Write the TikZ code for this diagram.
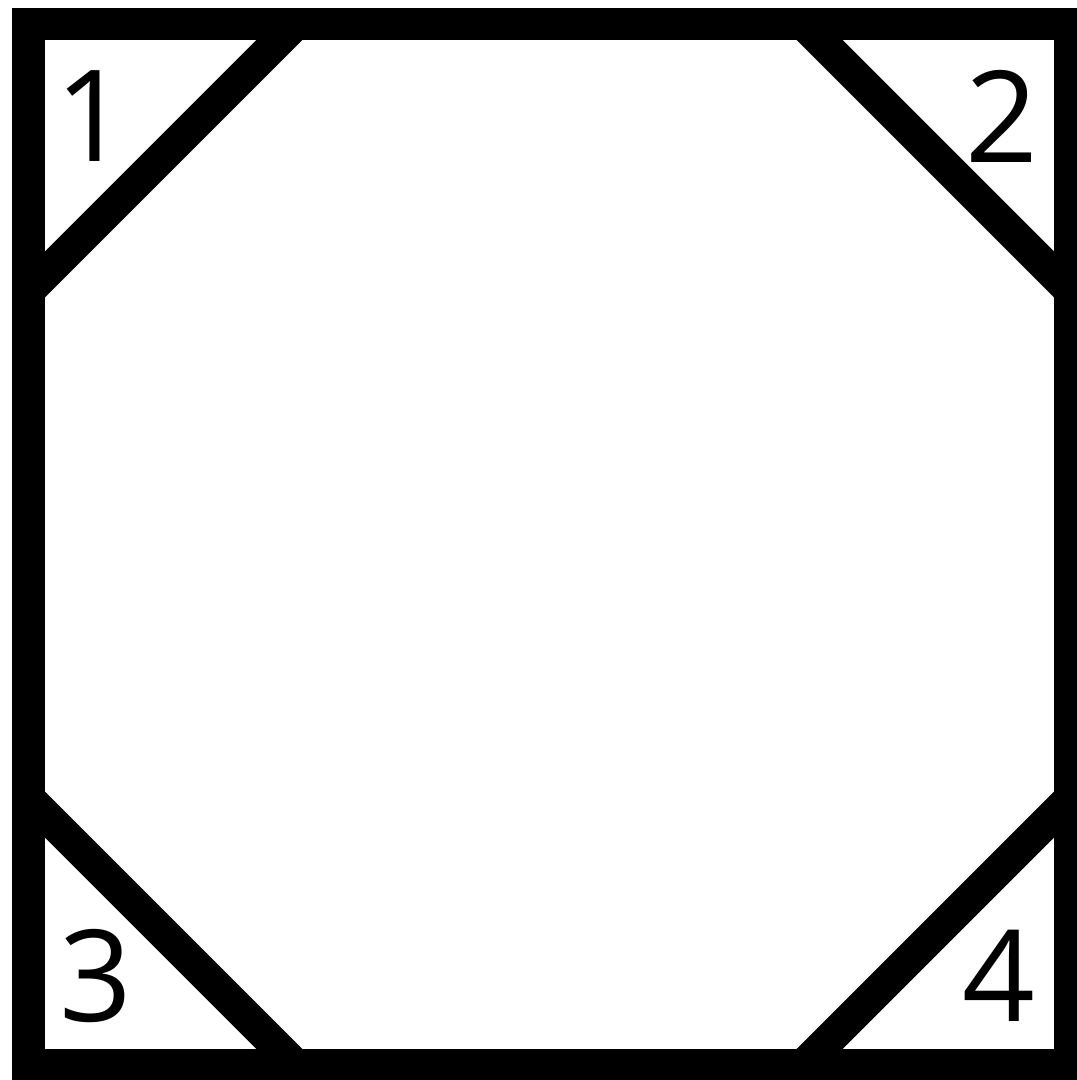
\documentclass[tikz,border=0pt]{standalone}
\usepackage{fontspec}
\setmainfont{Open Sans}
\usetikzlibrary{positioning}

\begin{document}
\begin{tikzpicture}[
        x=0.01cm, y=-0.01cm,
        frame/.style={draw=black, line width=0.325cm, line join=miter},
        cut/.style={draw=black, line width=0.325cm, line cap=butt},
        numlabel/.style={inner sep=0pt, font=\fontsize{36.2}{40}\selectfont}
    ]
    \useasboundingbox (0,0) rectangle (1077,1080);
    \clip (0,0) rectangle (1077,1080);
    % outer square
    \draw [frame] (28.5,24) rectangle (1070,1065);
    % corner cuts
    \coordinate (tl-a) at (295.5,24);  \coordinate (tl-b) at (28.5,291);
    \coordinate (tr-a) at (803.5,24);  \coordinate (tr-b) at (1070,290.5);
    \coordinate (bl-a) at (295.5,1065); \coordinate (bl-b) at (28.5,798);
    \coordinate (br-a) at (803.5,1065); \coordinate (br-b) at (1070,798.5);
    \draw [cut] (tl-a) -- (tl-b);
    \draw [cut] (tr-a) -- (tr-b);
    \draw [cut] (bl-a) -- (bl-b);
    \draw [cut] (br-a) -- (br-b);
    % numbers
    \node (n1) [numlabel] at (91.5,116.5) {1};
    \node (n2) [numlabel] at (1001.5,116) {2};
    \node (n3) [numlabel] at (95.5,976) {3};
    \node (n4) [numlabel] at (999,975.5) {4};
\end{tikzpicture}
\end{document}
